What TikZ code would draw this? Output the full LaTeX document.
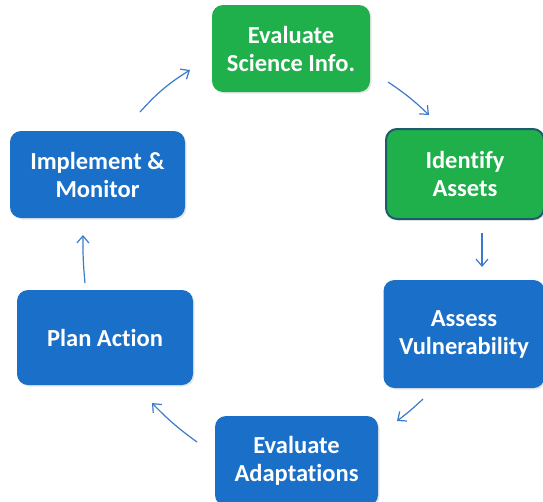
\documentclass[tikz,border=0pt]{standalone}
\usepackage{fontspec}
\setmainfont{Carlito}[Ligatures=NoCommon]
\usetikzlibrary{arrows.meta,positioning,shadows}
\definecolor{pGreen}{HTML}{1FAF4B}
\definecolor{pBlue}{HTML}{1A6FC8}
\definecolor{pTeal}{HTML}{1E5A6E}
\definecolor{pArrow}{HTML}{3C7BCB}
\tikzset{
    step box/.style={rounded corners=11pt, align=center, text=white,
        font=\fontsize{24.5}{28}\selectfont\bfseries, inner sep=0pt,
        drop shadow={shadow xshift=1.5pt, shadow yshift=-1.5pt, opacity=0.18}},
    green box/.style={step box, fill=pGreen},
    blue box/.style={step box, fill=pBlue},
    cyc arrow/.style={-{Straight Barb[length=7pt,width=12pt]}, pArrow, line width=1.2pt}
}
\begin{document}
\begin{tikzpicture}[x=1pt,y=-1pt]
\useasboundingbox[fill=white] (0,0) rectangle (543,501);
\node[green box, minimum width=158pt, minimum height=87pt] (sci) at (291,48.5) {Evaluate\\Science Info.};
\node[green box, draw=pTeal, line width=2pt, minimum width=158pt, minimum height=90pt] (ident) at (465,174) {Identify\\Assets};
\node[blue box, minimum width=161pt, minimum height=108pt] (vuln) at (464,334) {Assess\\Vulnerability};
\node[blue box, minimum width=163pt, minimum height=90pt] (adapt) at (296.5,461) {Evaluate\\Adaptations};
\node[blue box, minimum width=175pt, minimum height=87pt] (impl) at (97.5,174.5) {Implement \&\\Monitor};
\node[blue box, minimum width=176pt, minimum height=95pt] (plan) at (105,337.5) {Plan Action};
% cycle arrows
\coordinate (a1s) at (388,82);  \coordinate (a1e) at (429,115);
\coordinate (a2s) at (482,233); \coordinate (a2e) at (482,267);
\coordinate (a3s) at (423,399); \coordinate (a3e) at (397,421);
\coordinate (a4s) at (197,442); \coordinate (a4e) at (152,403);
\coordinate (a5s) at (85,283);  \coordinate (a5e) at (83,235);
\coordinate (a6s) at (140,112); \coordinate (a6e) at (190,70);
\draw[cyc arrow] (a1s) to[bend left=5] (a1e);
\draw[cyc arrow] (a2s) -- (a2e);
\draw[cyc arrow] (a3s) to[bend left=3] (a3e);
\draw[cyc arrow] (a4s) to[bend left=5] (a4e);
\draw[cyc arrow] (a5s) to[bend left=3] (a5e);
\draw[cyc arrow] (a6s) to[bend left=8] (a6e);
\end{tikzpicture}
\end{document}
